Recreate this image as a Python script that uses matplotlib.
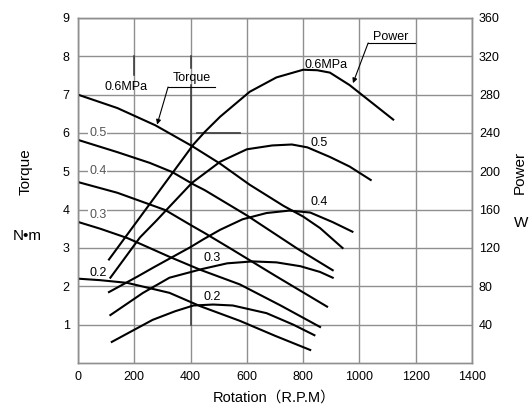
import matplotlib.pyplot as plt

plt.rcParams['font.family'] = ['Liberation Sans', 'Noto Sans CJK JP']

# Torque curves (N·m) per supply pressure
pressures = ["0.6", "0.5", "0.4", "0.3", "0.2"]

torque_rpm = {
    "0.6": [0, 140, 275, 405, 505, 610, 730, 800, 860, 940],
    "0.5": [0, 140, 255, 335, 410, 450, 550, 600, 780, 905],
    "0.4": [0, 140, 310, 400, 450, 550, 700, 885],
    "0.3": [0, 80, 175, 325, 435, 575, 720, 860],
    "0.2": [0, 80, 175, 325, 435, 575, 700, 825],
}
torque_val = {
    "0.6": [7.0, 6.65, 6.2, 5.66, 5.2, 4.65, 4.1, 3.82, 3.52, 3.0],
    "0.5": [5.82, 5.5, 5.22, 4.98, 4.66, 4.51, 4.07, 3.85, 2.98, 2.42],
    "0.4": [4.72, 4.44, 3.99, 3.6, 3.39, 2.95, 2.28, 1.47],
    "0.3": [3.68, 3.5, 3.26, 2.77, 2.43, 2.05, 1.5, 0.94],
    "0.2": [2.2, 2.16, 2.09, 1.83, 1.48, 1.1, 0.71, 0.34],
}

# Power curves (W) per supply pressure
power_rpm = {
    "0.6": [110, 170, 250, 335, 410, 450, 505, 610, 705, 800, 850, 895, 965, 1120],
    "0.5": [115, 220, 280, 315, 405, 505, 600, 690, 760, 815, 895, 965, 1040],
    "0.4": [110, 210, 270, 400, 445, 505, 585, 670, 750, 825, 905, 975],
    "0.3": [115, 230, 325, 440, 530, 620, 705, 790, 860, 905],
    "0.2": [120, 265, 345, 410, 480, 550, 670, 765, 840],
}
power_val = {
    "0.6": [108, 132, 164, 198, 228, 241, 257, 283, 298, 306, 305.5, 303, 290, 254],
    "0.5": [89, 131, 149, 160, 188, 210, 223, 227, 228, 225, 215, 205, 191],
    "0.4": [74, 90, 100, 121, 129, 139, 150, 156.5, 159, 157, 147, 137],
    "0.3": [50, 73, 89, 98, 104, 106, 105, 101, 95, 89],
    "0.2": [22, 45, 54, 60, 61, 60, 52, 40, 29],
}

x_ticks = [0, 200, 400, 600, 800, 1000, 1200, 1400]
torque_ticks = [1, 2, 3, 4, 5, 6, 7, 8, 9]
power_ticks = [40, 80, 120, 160, 200, 240, 280, 320, 360]

fig = plt.figure(figsize=(5.3, 4.08), dpi=100)
ax = fig.add_axes([0.1472, 0.1103, 0.7434, 0.8456])
ax2 = ax.twinx()

ax.set_xlim(0, 1400)
ax.set_ylim(0, 9)
ax2.set_ylim(0, 360)

ax.set_xticks(x_ticks)
ax.set_yticks(torque_ticks)
ax2.set_yticks(power_ticks)
ax.tick_params(length=0, labelsize=9, pad=6)
ax2.tick_params(length=0, labelsize=9, pad=5)
ax.grid(True, color="#8f8f8f", linewidth=1.0)
ax.set_axisbelow(True)
for a in (ax, ax2):
    for s in a.spines.values():
        s.set_color("#8f8f8f")
        s.set_linewidth(1.0)

# darker scan marks on a few grid lines
ax.plot([400, 400], [1.0, 7.25], color="#333333", lw=1.1, zorder=1)
ax.plot([400, 400], [7.7, 8.0], color="#333333", lw=1.1, zorder=1)
ax.plot([200, 200], [7.5, 8.0], color="#333333", lw=1.1, zorder=1)
ax.plot([423, 576], [6.0, 6.0], color="#444444", lw=1.3, zorder=1)

for p in pressures:
    ax.plot(torque_rpm[p], torque_val[p], color="black", lw=1.5, zorder=3,
            solid_joinstyle="round")
    ax2.plot(power_rpm[p], power_val[p], color="black", lw=1.5, zorder=3,
             solid_joinstyle="round")

# torque labels on the left
ax.text(170, 7.2, "0.6MPa", fontsize=9, ha="center", va="center")
for lbl, yv in [("0.5", 6.0), ("0.4", 5.0), ("0.3", 3.86)]:
    ax.text(70, yv, lbl, fontsize=9, ha="center", va="center", color="#555555",
            bbox=dict(facecolor="white", edgecolor="none", pad=0.5))
ax.text(70, 2.35, "0.2", fontsize=9, ha="center", va="center")

# power labels
ax2.text(805, 311, "0.6MPa", fontsize=9, ha="left", va="center")
ax2.text(825, 230, "0.5", fontsize=9, ha="left", va="center")
ax2.text(825, 168, "0.4", fontsize=9, ha="left", va="center")
ax2.text(445, 110, "0.3", fontsize=9, ha="left", va="center")
ax2.text(445, 69, "0.2", fontsize=9, ha="left", va="center")

# callouts
ax.text(404, 7.43, "Torque", fontsize=9, ha="center", va="center")
ax.plot([320, 487], [7.2, 7.2], color="black", lw=0.8)
ax.annotate("", xy=(281, 6.22), xytext=(320, 7.2),
            arrowprops=dict(arrowstyle="-|>", color="black", lw=0.8,
                            mutation_scale=7, shrinkA=0, shrinkB=0))
ax2.text(1112, 340, "Power", fontsize=9, ha="center", va="center")
ax2.plot([1031, 1198], [334, 334], color="black", lw=0.8)
ax2.annotate("", xy=(977, 292), xytext=(1031, 334),
             arrowprops=dict(arrowstyle="-|>", color="black", lw=0.8,
                             mutation_scale=7, shrinkA=0, shrinkB=0))

# axis titles
fig.text(26 / 530, 1 - 172 / 408, "Torque", rotation=90, fontsize=11,
         ha="center", va="center")
fig.text(27 / 530, 1 - 236 / 408, "N•m", fontsize=11, ha="center", va="center")
fig.text(520 / 530, 1 - 172 / 408, "Power", rotation=90, fontsize=11,
         ha="center", va="center")
fig.text(521 / 530, 1 - 223 / 408, "W", fontsize=11, ha="center", va="center")
fig.text(274 / 530, 1 - 398 / 408, "Rotation（R.P.M）", fontsize=10.5,
         ha="center", va="center")

fig.savefig("out.png", dpi=100)
